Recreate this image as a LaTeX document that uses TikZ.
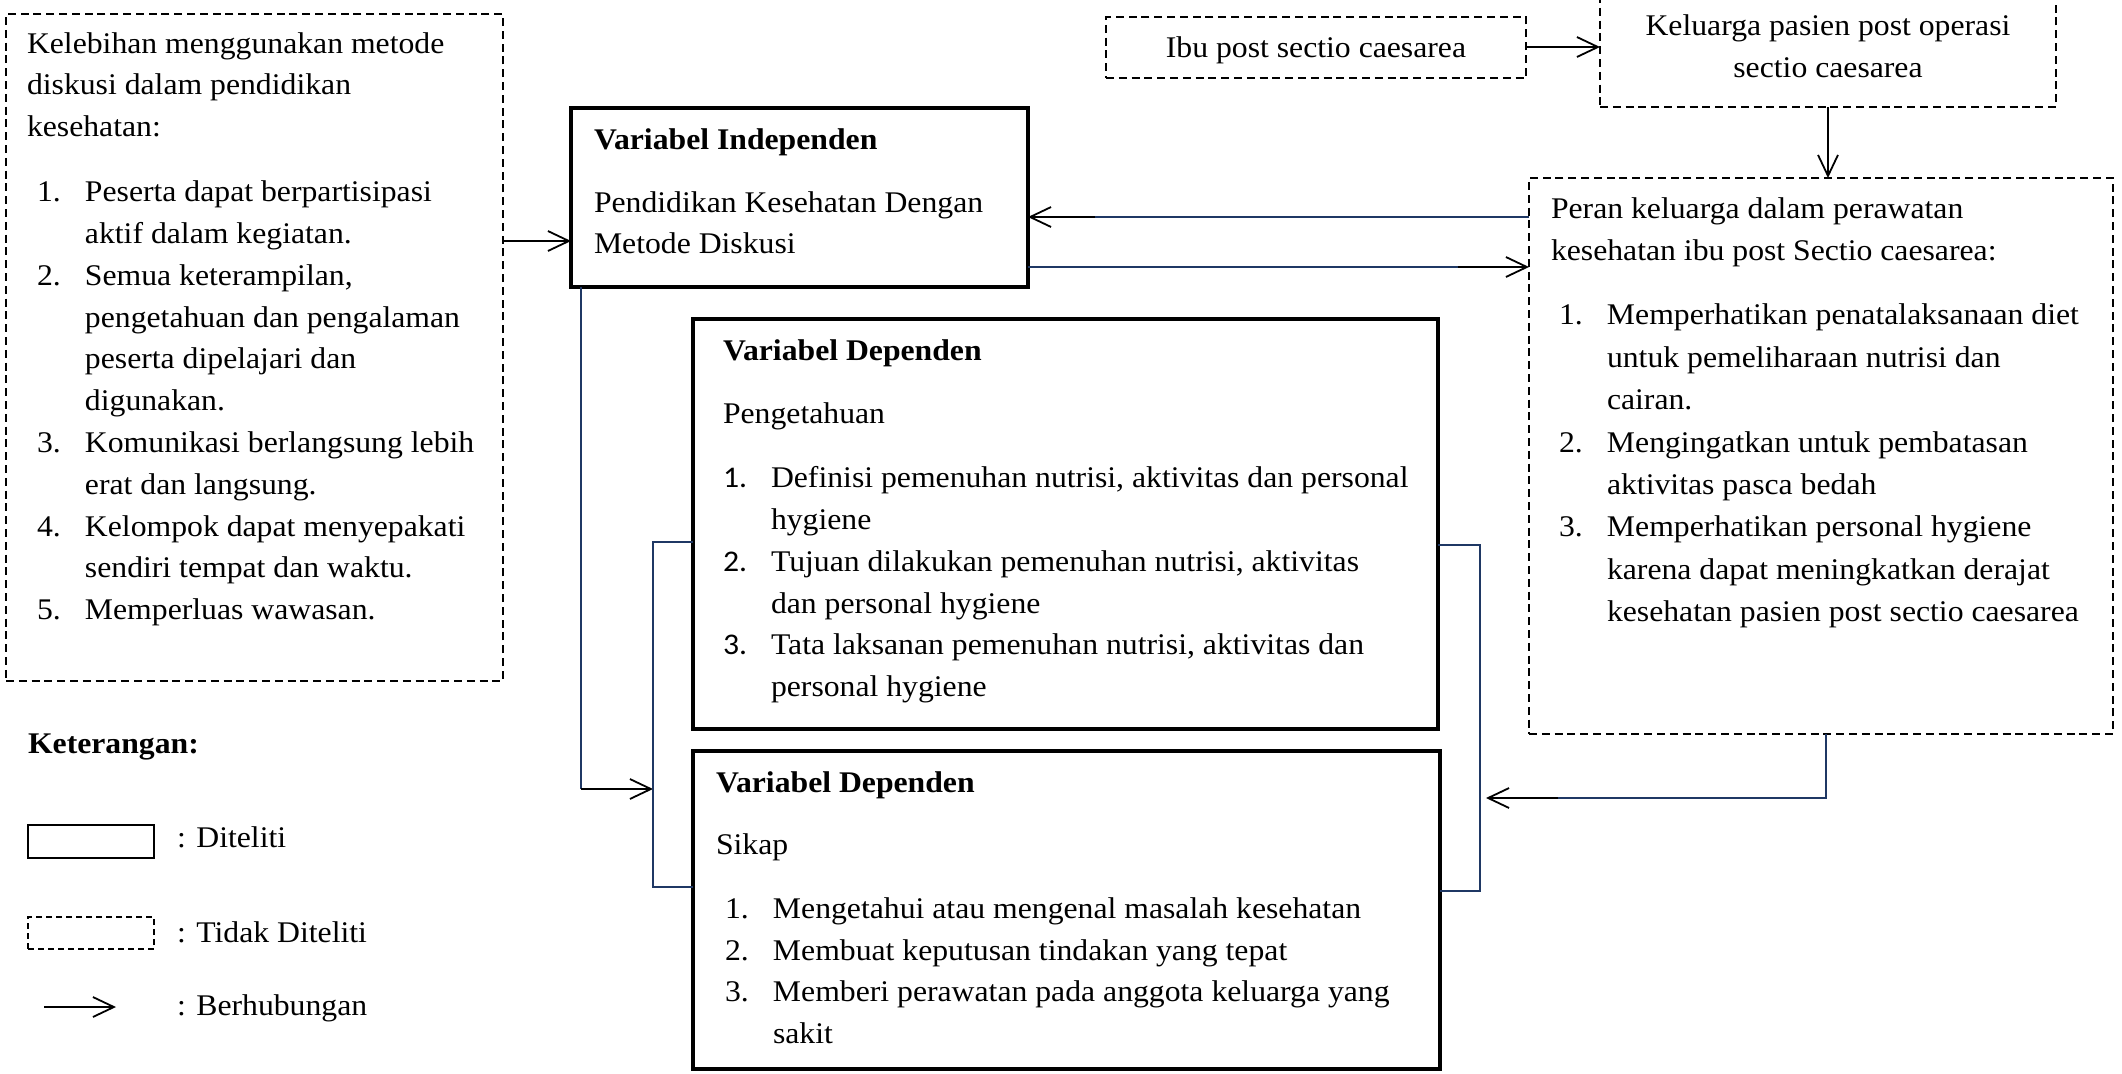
\documentclass[tikz,border=0pt]{standalone}
\usepackage{fontspec}
\setmainfont{Liberation Serif}[FakeStretch=1.057]
\newfontfamily\numfont{Carlito}[FakeStretch=1.057]
\usetikzlibrary{arrows.meta}
\definecolor{navy}{RGB}{31,56,100}
\newcommand\tb[3]{\begin{minipage}[t]{#1}\raggedright\parindent=0pt\parskip=0pt\fontsize{15pt}{#2}\selectfont #3\end{minipage}}
\newcommand\itm[3]{\par\noindent\hangindent=#1\hangafter=1\makebox[#1][l]{#2}#3\par}
\newcommand\mkbox[6]{\node[#1, minimum width={((#5)-(#3))*0.5pt}, minimum height={((#6)-(#4))*0.5pt}] (#2) at (#3,#4) {};}
\tikzset{
  solidbox/.style={draw, line width=1.6pt, inner sep=0pt, outer sep=0pt, anchor=north west},
  dashbox/.style={draw, line width=1.35pt, dash pattern=on 4pt off 2.4pt, inner sep=0pt, outer sep=0pt, anchor=north west},
  legsolid/.style={draw, line width=1pt, inner sep=0pt, outer sep=0pt, anchor=north west},
  legdash/.style={draw, line width=1pt, dash pattern=on 3pt off 2pt, inner sep=0pt, outer sep=0pt, anchor=north west},
  txt/.style={inner sep=0pt, outer sep=0pt, anchor=base west},
  navyline/.style={draw=navy, line width=0.7pt},
  blkarrow/.style={draw=black, line width=0.9pt, -{Straight Barb[length=10.5pt,width=10pt]}}
}
\begin{document}
\begin{tikzpicture}[x=0.5pt, y=-0.5pt, font=\fontsize{15pt}{20.9pt}\selectfont]
\useasboundingbox (0,0) rectangle (2122,1073);
% boxes
\mkbox{dashbox}{leftbox}{6}{14}{503}{681}
\mkbox{solidbox}{ind}{571}{108}{1028}{287}
\mkbox{solidbox}{peng}{693}{319}{1438}{729}
\mkbox{solidbox}{sikap}{693}{751}{1440}{1069}
\mkbox{dashbox}{peran}{1529}{178}{2113}{734}
\mkbox{dashbox}{ibu}{1106}{17}{1526}{78}
\mkbox{dashbox}{kel}{1600}{-5}{2056}{107}
\mkbox{legsolid}{legA}{28}{825}{154}{858}
\mkbox{legdash}{legB}{28}{917}{154}{949}

% texts
\node[txt] (lefttext) at (27,53) {\tb{300pt}{20.9pt}{%
Kelebihan menggunakan metode\newline diskusi dalam pendidikan\newline kesehatan:\par\vspace{11.6pt}%
\itm{29pt}{\hspace{5pt}1.}{Peserta dapat berpartisipasi\newline aktif dalam kegiatan.}%
\itm{29pt}{\hspace{5pt}2.}{Semua keterampilan,\newline pengetahuan dan pengalaman\newline peserta dipelajari dan\newline digunakan.}%
\itm{29pt}{\hspace{5pt}3.}{Komunikasi berlangsung lebih\newline erat dan langsung.}%
\itm{29pt}{\hspace{5pt}4.}{Kelompok dapat menyepakati\newline sendiri tempat dan waktu.}%
\itm{29pt}{\hspace{5pt}5.}{Memperluas wawasan.}}};

\node[txt] (indtext) at (594,149) {\tb{300pt}{20.9pt}{\textbf{Variabel Independen}\par\vspace{10.6pt}Pendidikan Kesehatan Dengan\newline Metode Diskusi}};

\node[txt] (pengtext) at (723,360) {\tb{400pt}{20.9pt}{\textbf{Variabel Dependen}\par\vspace{11pt}Pengetahuan\par\vspace{11pt}%
\itm{24pt}{\numfont 1.}{Definisi pemenuhan nutrisi, aktivitas dan personal\newline hygiene}%
\itm{24pt}{\numfont 2.}{Tujuan dilakukan pemenuhan nutrisi, aktivitas\newline dan personal hygiene}%
\itm{24pt}{\numfont 3.}{Tata laksanan pemenuhan nutrisi, aktivitas dan\newline personal hygiene}}};

\node[txt] (sikaptext) at (716,792.6) {\tb{400pt}{20.9pt}{\textbf{Variabel Dependen}\par\vspace{10pt}Sikap\par\vspace{11pt}%
\itm{28.5pt}{\hspace{4.5pt}1.}{Mengetahui atau mengenal masalah kesehatan}%
\itm{28.5pt}{\hspace{4.5pt}2.}{Membuat keputusan tindakan yang tepat}%
\itm{28.5pt}{\hspace{4.5pt}3.}{Memberi perawatan pada anggota keluarga yang\newline sakit}}};

\node[txt] (perantext) at (1551,218) {\tb{320pt}{21.2pt}{Peran keluarga dalam perawatan\newline kesehatan ibu post Sectio caesarea:\par\vspace{11pt}%
\itm{28pt}{\hspace{4pt}1.}{Memperhatikan penatalaksanaan diet\newline untuk pemeliharaan nutrisi dan\newline cairan.}%
\itm{28pt}{\hspace{4pt}2.}{Mengingatkan untuk pembatasan\newline aktivitas pasca bedah}%
\itm{28pt}{\hspace{4pt}3.}{Memperhatikan personal hygiene\newline karena dapat meningkatkan derajat\newline kesehatan pasien post sectio caesarea}}};

\node[txt, anchor=base] (keltext) at (1828,35) {\tb{220pt}{21pt}{\centering Keluarga pasien post operasi\\ sectio caesarea}};
\node[txt, anchor=base] (ibutext) at (1316,57) {Ibu post sectio caesarea};

\node[txt] (kettext) at (28,753) {\bfseries Keterangan:};
\node[txt] (legAtext) at (177,847) {: Diteliti};
\node[txt] (legBtext) at (177,942) {: Tidak Diteliti};
\node[txt] (legCtext) at (177,1015) {: Berhubungan};

% coordinates for connector bends
\coordinate (c1) at (1095,217);
\coordinate (c2) at (1458,267);
\coordinate (c3) at (581,789);
\coordinate (tipL) at (653,789);
\coordinate (c4) at (1826,798);
\coordinate (c5) at (1558,798);
\coordinate (tipR) at (1486,798);
\coordinate (legS) at (44,1007);
\coordinate (legE) at (116,1007);

% connectors
\draw[blkarrow] (leftbox.east |- 0,241) -- (ind.west |- 0,241);
\draw[blkarrow] (ibu.east |- 0,47) -- (kel.west |- 0,47);
\draw[blkarrow] (kel.south) -- (peran.north -| kel.south);
\draw[navyline] (peran.west |- c1) -- (c1);
\draw[blkarrow] (c1) -- (ind.east |- c1);
\draw[navyline] (ind.east |- c2) -- (c2);
\draw[blkarrow] (c2) -- (peran.west |- c2);
\draw[navyline] (ind.south -| c3) -- (c3);
\draw[blkarrow] (c3) -- (tipL);
\draw[navyline] (peng.west |- 0,542) -- (653,542) -- (653,887) -- (sikap.west |- 0,887);
\draw[navyline] (peng.east |- 0,545) -- (1480,545) -- (1480,891) -- (sikap.east |- 0,891);
\draw[navyline] (peran.south -| c4) -- (c4) -- (c5);
\draw[blkarrow] (c5) -- (tipR);
\draw[blkarrow] (legS) -- (legE);
\end{tikzpicture}
\end{document}
